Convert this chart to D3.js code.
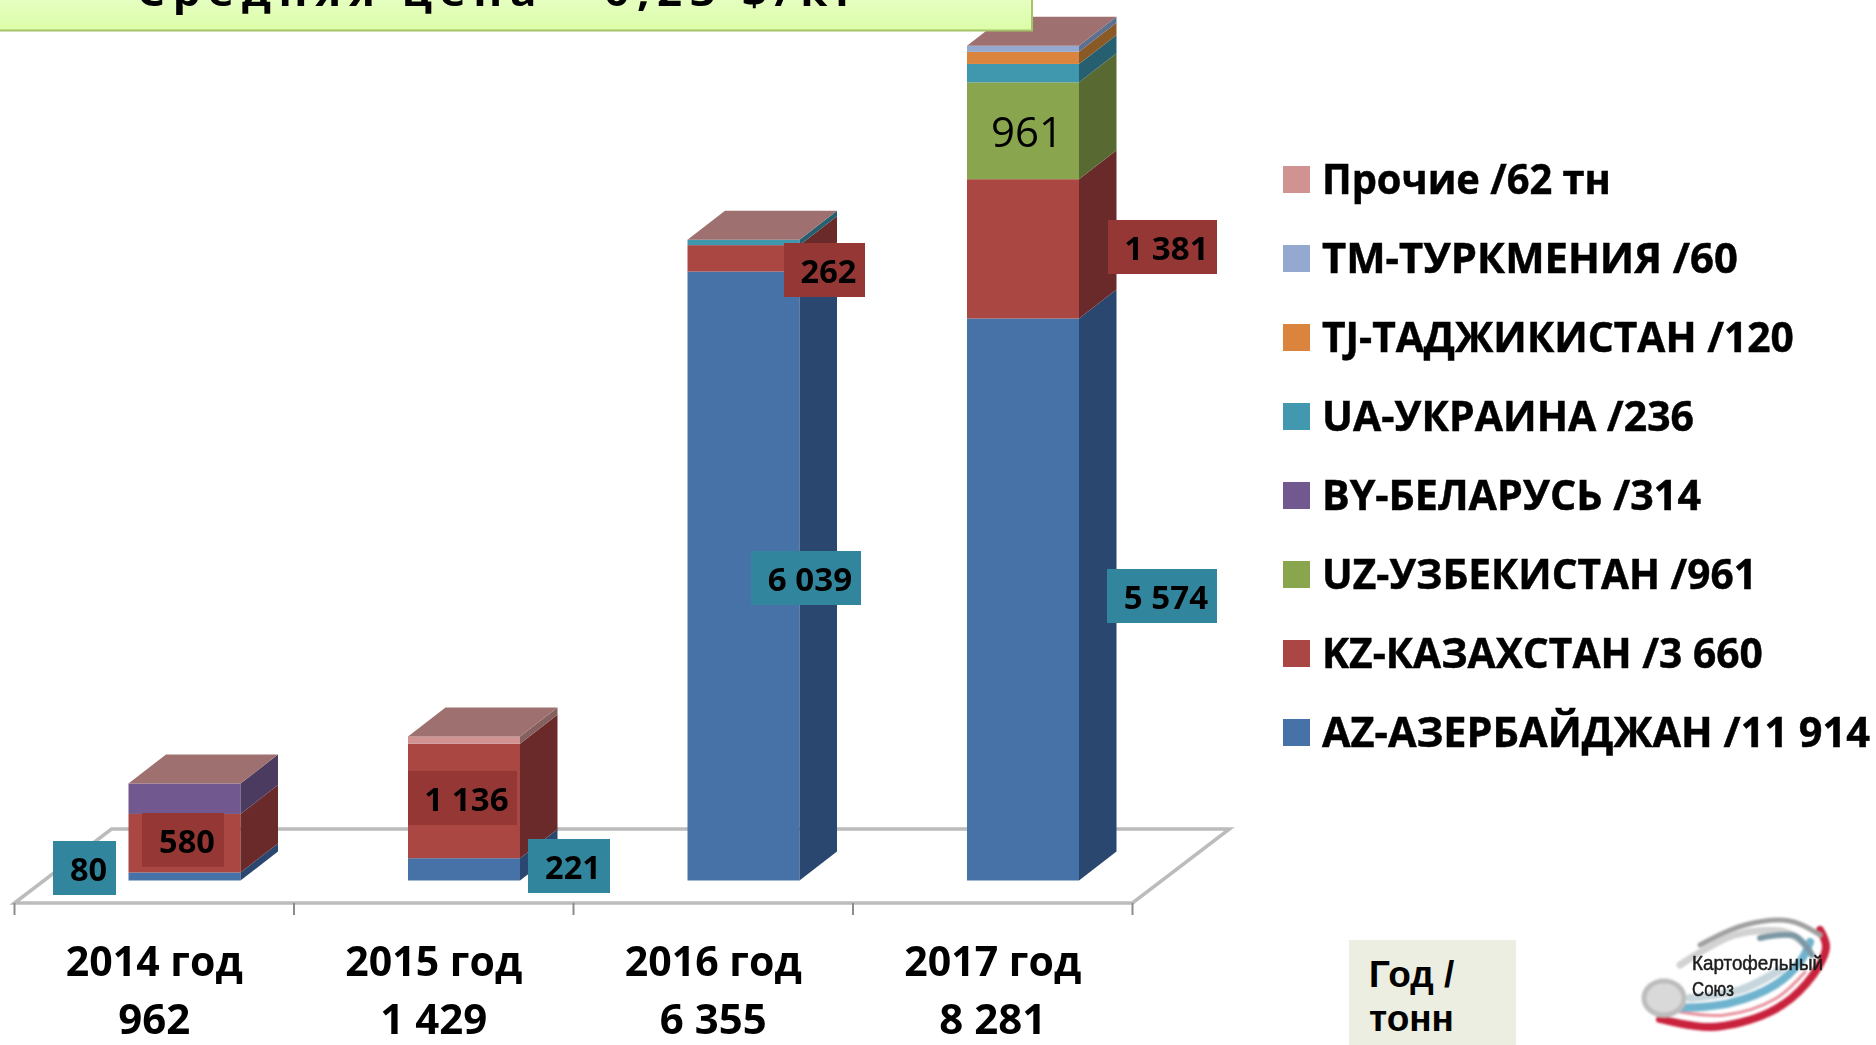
<!DOCTYPE html>
<html><head><meta charset="utf-8">
<script src="https://cdnjs.cloudflare.com/ajax/libs/d3/7.8.5/d3.min.js"></script>
<style>
html,body{margin:0;padding:0;background:#fff;overflow:hidden}
svg{display:block}
text{font-family:"Open Sans",sans-serif;fill:#000}
</style></head><body>
<svg id="c" width="1876" height="1045"></svg>
<script>
const years = ["2014 год","2015 год","2016 год","2017 год"];
const yearTotals = ["962","1 429","6 355","8 281"];
const seriesKeys = ["AZ","KZ","UZ","BY","UA","TJ","TM","OT"];
const AZ = [80,221,6039,5574];
const KZ = [580,1136,262,1381];
const UZ = [0,0,0,961];
const BY = [302,0,0,0];
const UA = [0,0,54,182];
const TJ = [0,0,0,120];
const TM = [0,0,0,60];
const OT = [0,72,0,0];
const legendLabels = ["Прочие /62 тн","TM-ТУРКМЕНИЯ /60","TJ-ТАДЖИКИСТАН /120","UA-УКРАИНА /236","BY-БЕЛАРУСЬ /314","UZ-УЗБЕКИСТАН /961","KZ-КАЗАХСТАН /3 660","AZ-АЗЕРБАЙДЖАН /11 914"];
const legendKeys = ["OT","TM","TJ","UA","BY","UZ","KZ","AZ"];
const titleText = "Средняя цена - 0,23 $/кг";
const unitLines = ["Год /","тонн"];
const logoLines = ["Картофельный","Союз"];

const front = {AZ:"#4672a7",KZ:"#aa4643",UZ:"#89a54e",BY:"#71588f",UA:"#4198af",TJ:"#db843d",TM:"#93a9cf",OT:"#d19392"};
const side  = {AZ:"#2c4770",KZ:"#6b2b2a",UZ:"#596a30",BY:"#4b3a60",UA:"#255f70",TJ:"#8a5a28",TM:"#5c6f8f",OT:"#86605f"};
const topColor = "#9f7070";
const seriesValues = {AZ,KZ,UZ,BY,UA,TJ,TM,OT};

const svg = d3.select("#c");
const defs = svg.append("defs");
defs.append("filter").attr("id","soft").append("feGaussianBlur").attr("stdDeviation",0.7);
defs.append("filter").attr("id","softT").append("feGaussianBlur").attr("stdDeviation",0.35);
defs.append("filter").attr("id","logoB").attr("x","-10%").attr("y","-10%").attr("width","120%").attr("height","120%").append("feGaussianBlur").attr("stdDeviation",1.3);
defs.append("filter").attr("id","logoT").append("feGaussianBlur").attr("stdDeviation",0.6);
const g = defs.append("linearGradient").attr("id","tg").attr("x1",0).attr("x2",0).attr("y1",0).attr("y2",1);
g.append("stop").attr("offset","0%").attr("stop-color","#e8ffc8");
g.append("stop").attr("offset","100%").attr("stop-color","#dcfda8");

const x = d3.scaleBand().domain(years).range([14.5,1132.5]);
const y = d3.scaleLinear().domain([0,8281]).range([880.5,45.5]);
const barW = 112, barOff = 114, dx = 37.5, dy = 29;
const rows = years.map((yr,i)=>{const o={year:yr};seriesKeys.forEach(k=>o[k]=seriesValues[k][i]);return o;});
const stack = d3.stack().keys(seriesKeys)(rows);

// floor
const fx = 97, fy = 74, f0 = 903;
const x0 = x.range()[0], x1 = x.range()[1];
svg.append("path").attr("d",`M${x0},${f0}L${x0+fx},${f0-fy}L${x1+fx},${f0-fy}L${x1},${f0}Z`)
  .attr("fill","#fff").attr("stroke","#bcbcbc").attr("stroke-width",3.5).attr("filter","url(#soft)");
const edges = years.map(d=>x(d)).concat([x1]);
svg.selectAll(".tk").data(edges).enter().append("line")
  .attr("x1",d=>d).attr("x2",d=>d).attr("y1",f0).attr("y2",f0+12)
  .attr("stroke","#8c8c8c").attr("stroke-width",2);

// bars
const bars = svg.append("g").attr("filter","url(#soft)");
const bx = yr => x(yr) + barOff;
years.forEach((yr,i)=>{
  stack.forEach(s=>{
    const [a,b] = s[i]; if(b-a<=0) return;
    const k = s.key, X = bx(yr);
    bars.append("rect").attr("x",X).attr("width",barW).attr("y",y(b)).attr("height",y(a)-y(b)).attr("fill",front[k]);
    const R = X+barW;
    bars.append("path").attr("d",`M${R},${y(a)}L${R+dx},${y(a)-dy}L${R+dx},${y(b)-dy}L${R},${y(b)}Z`).attr("fill",side[k]);
  });
  const t = y(d3.sum(seriesKeys,k=>seriesValues[k][i])), X = bx(yr);
  bars.append("path").attr("d",`M${X},${t}L${X+dx},${t-dy}L${X+barW+dx},${t-dy}L${X+barW},${t}Z`).attr("fill",topColor);
});

// data labels
const fmt = v => String(v).replace(/\B(?=(\d{3})+$)/g," ");
const labelBoxes = [
 {k:"AZ",i:0,bx:53,by:841,bw:63,col:"#31859c"},
 {k:"KZ",i:0,bx:142,by:813,bw:82,col:"#953735"},
 {k:"KZ",i:1,bx:408,by:771,bw:109,col:"#953735"},
 {k:"AZ",i:1,bx:528,by:839,bw:82,col:"#31859c"},
 {k:"KZ",i:2,bx:784,by:243,bw:81,col:"#953735"},
 {k:"AZ",i:2,bx:751,by:551,bw:110,col:"#31859c"},
 {k:"KZ",i:3,bx:1108,by:220,bw:109,col:"#953735"},
 {k:"AZ",i:3,bx:1107,by:569,bw:110,col:"#31859c"}
];
// squeeze a text horizontally to a target width, anchored at a left edge
function fit(sel, left, base, width){
  sel.each(function(d,i){
    const t = d3.select(this).attr("x",0).attr("y",0);
    const n = this.getComputedTextLength();
    t.attr("transform",`translate(${left(d,i)},${base(d,i)}) scale(${width(d,i)/n},1)`);
  });
}
const lblW = s => s.replace(/ /g,"").length*18.6 + (s.includes(" ")?10:0);
const lb = svg.selectAll(".lb").data(labelBoxes).enter().append("g");
lb.append("rect").attr("x",d=>d.bx).attr("y",d=>d.by).attr("width",d=>d.bw).attr("height",54).attr("fill",d=>d.col);
lb.append("text").style("font-weight",700).style("font-size","33px").attr("filter","url(#softT)")
  .text(d=>fmt(seriesValues[d.k][d.i]))
  .call(fit, d=>d.bx+d.bw/2+4-lblW(fmt(seriesValues[d.k][d.i]))/2, d=>d.by+40, d=>lblW(fmt(seriesValues[d.k][d.i])));
svg.append("text").style("font-size","42px").attr("filter","url(#softT)").text(fmt(UZ[3]))
  .call(fit, ()=>991, ()=>147, ()=>72);

// category labels
const cat = svg.selectAll(".cat").data(years).enter().append("g");
cat.append("text").style("font-weight",700).style("font-size","41px").attr("filter","url(#softT)").text(d=>d)
  .call(fit, d=>x(d)+x.bandwidth()/2-88.5, ()=>976, ()=>177);
const totalW = [72,107,107,107];
cat.append("text").style("font-weight",700).style("font-size","41px").attr("filter","url(#softT)").text((d,i)=>yearTotals[i])
  .call(fit, (d,i)=>x(d)+x.bandwidth()/2-totalW[i]/2, ()=>1034, (d,i)=>totalW[i]);

// legend
const ly = d3.scalePoint().domain(legendKeys).range([179.5,732.5]);
const legendWidths = [289,416,472,372,379,435,441,548];
const lg = svg.selectAll(".lg").data(legendKeys).enter().append("g");
lg.append("rect").attr("x",1283).attr("width",27).attr("y",d=>ly(d)-13.5).attr("height",27).attr("fill",d=>front[d]);
lg.append("text").style("font-weight",700).style("font-size","42px").attr("filter","url(#softT)")
  .style("stroke","#000").style("stroke-width",0.5)
  .text((d,i)=>legendLabels[i])
  .call(fit, ()=>1322, d=>ly(d)+14, (d,i)=>legendWidths[i]);

// title box
svg.append("rect").attr("x",-5).attr("y",-10).attr("width",1037).attr("height",40.5).attr("fill","url(#tg)").attr("stroke","#a5c468").attr("stroke-width",2);
svg.append("text").style("font-weight",700).style("font-size","40px").style("letter-spacing","7px").attr("filter","url(#softT)").text(titleText)
  .call(fit, ()=>137, ()=>6, ()=>727);

// unit box
svg.append("rect").attr("x",1349).attr("y",940).attr("width",167).attr("height",105).attr("fill","#ebeee0");
svg.selectAll(".u").data(unitLines).enter().append("text").attr("x",1369).attr("y",(d,i)=>987+i*44)
  .style("font-family","'Liberation Sans'").style("font-weight",700).style("font-size","37px").text(d=>d);

// logo
const logo = svg.append("g").attr("filter","url(#logoB)").attr("fill","none").attr("stroke-linecap","round");
const curve = d3.line().curve(d3.curveCatmullRom);
const swooshes = [
 {c:"#c9223d",w:8,p:[[1660,1019],[1712,1027],[1770,1012],[1806,984],[1826,948],[1820,930]]},
 {c:"#e8909c",w:3,p:[[1680,1012],[1725,1015],[1775,999],[1805,972]]},
 {c:"#6fb3cf",w:8,p:[[1680,1008],[1730,1003],[1775,985],[1800,962],[1810,942]]},
 {c:"#c6d6dc",w:8,p:[[1690,998],[1740,990],[1780,970]]},
 {c:"#a0a0a0",w:5,p:[[1700,945],[1745,925],[1790,921],[1820,935]]},
 {c:"#d2d2d2",w:7,p:[[1680,965],[1735,935],[1785,932],[1805,945]]},
 {c:"#7d98a5",w:6,p:[[1760,938],[1795,936],[1812,955]]}
];
logo.selectAll(".s").data(swooshes).enter().append("path").attr("d",d=>curve(d.p)).attr("stroke",d=>d.c).attr("stroke-width",d=>d.w);
logo.append("ellipse").attr("cx",1664).attr("cy",998).attr("rx",20).attr("ry",17).attr("fill","#d9d9d9").attr("stroke","#bdbdbd").attr("stroke-width",5);
svg.selectAll(".lt").data(logoLines).enter().append("text")
  .style("font-family","'Liberation Sans'").style("font-size","21px").style("fill","#1c1c1c").style("stroke","#1c1c1c").style("stroke-width",0.5).attr("filter","url(#logoT)").text(d=>d)
  .call(fit, ()=>1692, (d,i)=>970+i*26, (d,i)=>[131,42][i]);
</script>
</body></html>
